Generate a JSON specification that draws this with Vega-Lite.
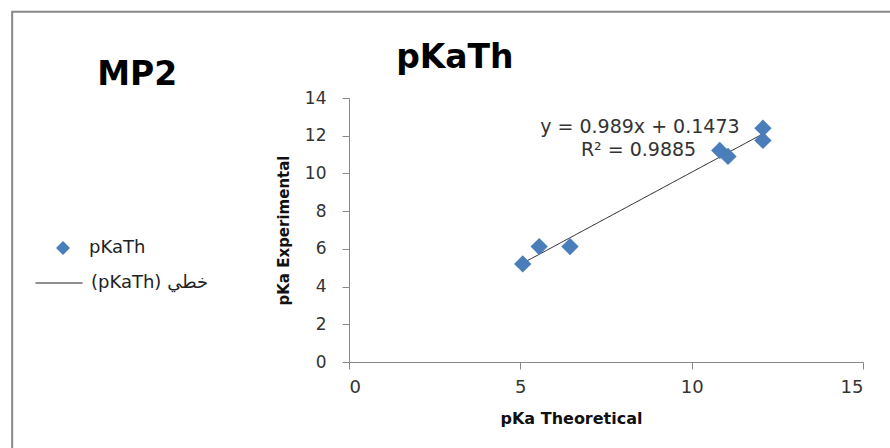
{
  "$schema": "https://vega.github.io/schema/vega-lite/v6.json",
  "width": 514,
  "height": 264,
  "autosize": {"type": "none"},
  "padding": {"left": 349, "top": 98, "right": 27, "bottom": 86},
  "background": "white",
  "config": {
    "view": {"stroke": null},
    "font": "DejaVu Sans",
    "axisX": {"values": [0, 5, 10, 15], "title": "pKa Theoretical", "grid": false, "labelOverlap": false, "domainColor": "#888888", "tickColor": "#888888", "tickSize": 7, "labelFontSize": 18, "labelFont": "DejaVu Sans", "labelColor": "#333333", "labelPadding": 9, "titleFont": "DejaVu Sans", "titleFontSize": 16, "titleFontWeight": "bold", "titleColor": "#111111", "titleX": 222, "titleY": 61, "titleBaseline": "alphabetic", "titleAlign": "center"},
    "axisY": {"values": [0, 2, 4, 6, 8, 10, 12, 14], "grid": false, "labelOverlap": false, "domainColor": "#888888", "tickColor": "#888888", "tickSize": 7, "labelFontSize": 17, "labelFont": "DejaVu Sans", "labelColor": "#333333", "labelPadding": 16, "titleFont": "DejaVu Sans", "titleFontSize": 15, "titleFontWeight": "bold", "titleColor": "#111111", "titleX": -66, "titleBaseline": "middle"}
  },
  "data": {
    "values": [
      {"x": 5.07, "y": 5.20, "series": "pKaTh", "fit": "(pKaTh) خطي"},
      {"x": 5.55, "y": 6.12, "series": "pKaTh", "fit": "(pKaTh) خطي"},
      {"x": 6.45, "y": 6.12, "series": "pKaTh", "fit": "(pKaTh) خطي"},
      {"x": 10.82, "y": 11.22, "series": "pKaTh", "fit": "(pKaTh) خطي"},
      {"x": 11.06, "y": 10.90, "series": "pKaTh", "fit": "(pKaTh) خطي"},
      {"x": 12.08, "y": 12.40, "series": "pKaTh", "fit": "(pKaTh) خطي"},
      {"x": 12.08, "y": 11.75, "series": "pKaTh", "fit": "(pKaTh) خطي"}
    ]
  },
  "layer": [
    {
      "data": {"values": [{}]},
      "mark": {"type": "rect", "clip": false, "fill": null, "stroke": "#888888", "strokeWidth": 2},
      "encoding": {
        "x": {"datum": -9.83, "type": "quantitative", "axis": {"values": [0, 5, 10, 15], "title": "pKa Theoretical"}},
        "x2": {"datum": 30},
        "y": {"datum": 18.57, "type": "quantitative", "axis": {"values": [0, 2, 4, 6, 8, 10, 12, 14], "title": "pKa Experimental"}},
        "y2": {"datum": -20}
      }
    },
    {
      "transform": [{"regression": "y", "on": "x", "groupby": ["fit"]}],
      "mark": {"type": "line", "color": "#1a1a1a", "strokeWidth": 1},
      "encoding": {
        "x": {"field": "x", "type": "quantitative", "axis": {"values": [0, 5, 10, 15], "title": "pKa Theoretical"}},
        "y": {"field": "y", "type": "quantitative", "axis": {"values": [0, 2, 4, 6, 8, 10, 12, 14], "title": "pKa Experimental"}},
        "strokeDash": {
          "field": "fit",
          "type": "nominal",
          "scale": {"range": [[1, 0]]},
          "legend": {
            "orient": "none",
            "legendX": -314,
            "legendY": 161,
            "title": null,
            "padding": 0,
            "symbolType": "stroke",
            "symbolSize": 2200,
            "symbolStrokeColor": "#000000",
            "symbolStrokeWidth": 1,
            "labelOffset": 8,
            "labelFontSize": 18,
            "labelFont": "DejaVu Sans",
            "labelColor": "#222222"
          }
        }
      }
    },
    {
      "mark": {"type": "point", "shape": "diamond", "filled": true, "size": 300, "opacity": 1},
      "encoding": {
        "x": {
          "field": "x",
          "type": "quantitative",
          "scale": {"domain": [0, 15], "nice": false, "zero": false},
          "axis": {"values": [0, 5, 10, 15], "title": "pKa Theoretical"}
        },
        "y": {
          "field": "y",
          "type": "quantitative",
          "scale": {"domain": [0, 14], "nice": false, "zero": false},
          "axis": {"values": [0, 2, 4, 6, 8, 10, 12, 14], "title": "pKa Experimental"}
        },
        "color": {
          "field": "series",
          "type": "nominal",
          "scale": {"range": ["#4A7EBB"]},
          "legend": {
            "orient": "none",
            "legendX": -295,
            "legendY": 141,
            "title": null,
            "padding": 0,
            "symbolType": "diamond",
            "symbolSize": 196,
            "symbolStrokeWidth": 0,
            "labelOffset": 17,
            "labelFontSize": 18,
            "labelFont": "DejaVu Sans",
            "labelColor": "#222222"
          }
        }
      }
    },
    {
      "data": {"values": [{}]},
      "mark": {"type": "text", "clip": false, "align": "center", "baseline": "alphabetic", "fontSize": 33, "fontWeight": "bold", "font": "DejaVu Sans", "color": "#000000"},
      "encoding": {
        "x": {"datum": -6.18, "type": "quantitative", "axis": {"values": [0, 5, 10, 15], "title": "pKa Theoretical"}},
        "y": {"datum": 14.70, "type": "quantitative", "axis": {"values": [0, 2, 4, 6, 8, 10, 12, 14], "title": "pKa Experimental"}},
        "text": {"value": "MP2"}
      }
    },
    {
      "data": {"values": [{}]},
      "mark": {"type": "text", "clip": false, "align": "center", "baseline": "alphabetic", "fontSize": 33, "fontWeight": "bold", "font": "DejaVu Sans", "color": "#000000"},
      "encoding": {
        "x": {"datum": 3.09, "type": "quantitative", "axis": {"values": [0, 5, 10, 15], "title": "pKa Theoretical"}},
        "y": {"datum": 15.61, "type": "quantitative", "axis": {"values": [0, 2, 4, 6, 8, 10, 12, 14], "title": "pKa Experimental"}},
        "text": {"value": "pKaTh"}
      }
    },
    {
      "data": {"values": [{}]},
      "mark": {"type": "text", "clip": false, "align": "center", "baseline": "alphabetic", "fontSize": 19, "fontWeight": "normal", "font": "DejaVu Sans", "color": "#333333"},
      "encoding": {
        "x": {"datum": 8.49, "type": "quantitative", "axis": {"values": [0, 5, 10, 15], "title": "pKa Theoretical"}},
        "y": {"datum": 12.17, "type": "quantitative", "axis": {"values": [0, 2, 4, 6, 8, 10, 12, 14], "title": "pKa Experimental"}},
        "text": {"value": "y = 0.989x + 0.1473"}
      }
    },
    {
      "data": {"values": [{}]},
      "mark": {"type": "text", "clip": false, "align": "center", "baseline": "alphabetic", "fontSize": 19, "fontWeight": "normal", "font": "DejaVu Sans", "color": "#333333"},
      "encoding": {
        "x": {"datum": 8.45, "type": "quantitative", "axis": {"values": [0, 5, 10, 15], "title": "pKa Theoretical"}},
        "y": {"datum": 10.90, "type": "quantitative", "axis": {"values": [0, 2, 4, 6, 8, 10, 12, 14], "title": "pKa Experimental"}},
        "text": {"value": "R² = 0.9885"}
      }
    }
  ]
}
